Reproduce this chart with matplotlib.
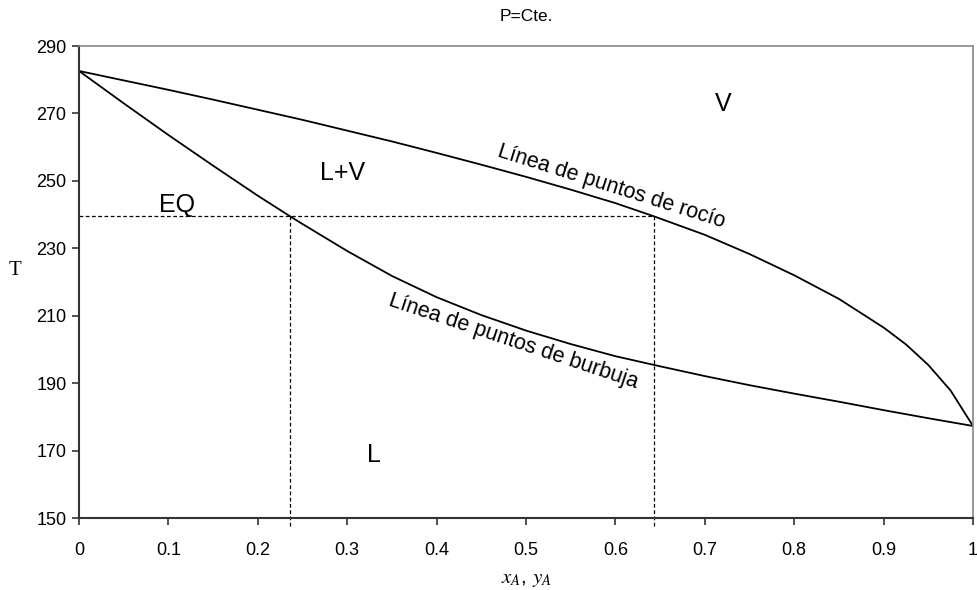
import numpy as np
import matplotlib.pyplot as plt

plt.rcParams['font.family'] = ['Liberation Sans', 'DejaVu Sans']
plt.rcParams['mathtext.fontset'] = 'stix'

# curva de burbuja (liquido) y de rocio (vapor)
x_burbuja = [0, 0.05, 0.1, 0.15, 0.2, 0.236, 0.25, 0.3, 0.35, 0.4, 0.45, 0.5,
             0.55, 0.6, 0.65, 0.7, 0.75, 0.8, 0.85, 0.9, 0.95, 1.0]
T_burbuja = [282.6, 273.0, 263.6, 254.5, 245.6, 239.5, 237.2, 229.2, 221.8, 215.5, 210.2, 205.6,
             201.6, 198.0, 195.0, 192.1, 189.4, 186.9, 184.5, 182.0, 179.6, 177.3]
x_rocio = [0, 0.05, 0.1, 0.15, 0.2, 0.25, 0.3, 0.35, 0.4, 0.45, 0.5, 0.55, 0.6, 0.643,
           0.7, 0.75, 0.8, 0.85, 0.9, 0.925, 0.95, 0.975, 1.0]
T_rocio = [282.6, 279.8, 277.0, 274.1, 271.1, 268.1, 264.9, 261.7, 258.3, 254.8, 251.2, 247.4, 243.4, 239.5,
           234.0, 228.3, 222.0, 215.0, 206.5, 201.5, 195.4, 187.8, 177.3]

T_eq = 239.5
x_eq = 0.236
y_eq = 0.643

fig = plt.figure(figsize=(9.77, 5.9), dpi=100)
ax = fig.add_axes([0.0809, 0.122, 0.915, 0.8])

ax.plot(x_burbuja, T_burbuja, color='black', lw=1.3)
ax.plot(x_rocio, T_rocio, color='black', lw=1.3)

ax.plot([0, y_eq], [T_eq, T_eq], 'k--', lw=0.9, dashes=(3, 2))
ax.plot([x_eq, x_eq], [T_eq, 147], 'k--', lw=0.9, dashes=(3, 2), clip_on=False)
ax.plot([y_eq, y_eq], [T_eq, 147], 'k--', lw=0.9, dashes=(3, 2), clip_on=False)

ax.set_xlim(0, 1)
ax.set_ylim(150, 290)
ax.set_xticks(np.arange(0, 1.01, 0.1))
ax.set_xticklabels(['0', '0.1', '0.2', '0.3', '0.4', '0.5', '0.6', '0.7', '0.8', '0.9', '1'])
ax.set_yticks(np.arange(150, 291, 20))
ax.tick_params(direction='out', length=5, width=1.2, labelsize=13, colors='#333333', labelcolor='black')
ax.tick_params(axis='x', pad=12)
ax.tick_params(axis='y', pad=4)

for s in ['left', 'bottom']:
    ax.spines[s].set_color('#333333')
    ax.spines[s].set_linewidth(1.5)
for s in ['top', 'right']:
    ax.spines[s].set_color('#888888')
    ax.spines[s].set_linewidth(1.2)

ax.text(0.721, 272.8, 'V', fontsize=18, ha='center', va='center')
ax.text(0.295, 252.3, 'L+V', fontsize=18, ha='center', va='center')
ax.text(0.11, 242.8, 'EQ', fontsize=18, ha='center', va='center')
ax.text(0.33, 168.7, 'L', fontsize=18, ha='center', va='center')
ax.text(0.596, 248.3, 'Línea de puntos de rocío', fontsize=15.5, rotation=-17.5,
        ha='center', va='center', rotation_mode='anchor')
ax.text(0.486, 202.3, 'Línea de puntos de burbuja', fontsize=15.5, rotation=-18.5,
        ha='center', va='center', rotation_mode='anchor')

ax.set_title('P=Cte.', fontsize=12.5, pad=18)
ax.set_ylabel('T', fontsize=15, family='Liberation Serif', rotation=0, va='center')
ax.yaxis.set_label_coords(-0.072, 0.525)
ax.set_xlabel('$x_A$, $y_A$', fontsize=15, labelpad=8)

fig.savefig('out.png', dpi=100)
